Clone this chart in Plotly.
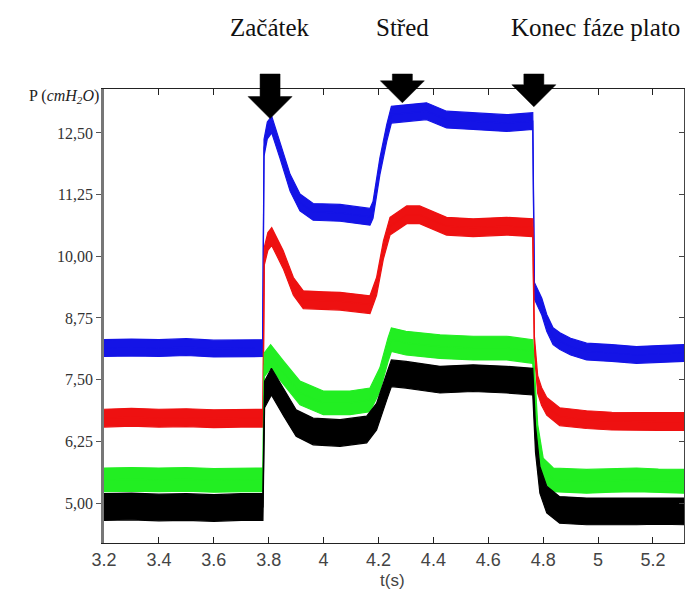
import plotly.graph_objects as go

# ---- data ----
blue_t = [3.20, 3.30, 3.40, 3.50, 3.60, 3.70, 3.778, 3.783, 3.795, 3.811, 3.841, 3.878, 3.914, 3.962,
          4.06, 4.169, 4.18, 4.205, 4.23, 4.247, 4.30, 4.375, 4.448, 4.545, 4.667, 4.762, 4.768,
          4.795, 4.813, 4.836, 4.861, 4.90, 4.958, 5.05, 5.14, 5.22, 5.313]
blue_p = [8.14, 8.15, 8.14, 8.16, 8.13, 8.14, 8.14, 12.2, 12.55, 12.67, 12.16, 11.49, 11.09, 10.90,
          10.88, 10.80, 10.94, 11.82, 12.5, 12.87, 12.90, 12.94, 12.77, 12.74, 12.70, 12.74, 9.3,
          8.98, 8.65, 8.38, 8.28, 8.17, 8.07, 8.04, 8.00, 8.02, 8.04]

red_t = [3.20, 3.30, 3.40, 3.50, 3.60, 3.70, 3.779, 3.784, 3.797, 3.811, 3.853, 3.89, 3.926, 4.0,
         4.06, 4.169, 4.193, 4.218, 4.242, 4.303, 4.35, 4.448, 4.545, 4.667, 4.762, 4.768, 4.78,
         4.794, 4.813, 4.86, 4.958, 5.05, 5.14, 5.22, 5.313]
red_p = [6.72, 6.74, 6.72, 6.73, 6.71, 6.72, 6.72, 10.0, 10.3, 10.40, 9.93, 9.39, 9.12, 9.10,
         9.09, 9.02, 9.39, 10.13, 10.61, 10.84, 10.84, 10.61, 10.58, 10.61, 10.58, 8.2, 7.4,
         7.16, 6.96, 6.75, 6.69, 6.66, 6.65, 6.65, 6.65]

green_t = [3.20, 3.30, 3.40, 3.50, 3.60, 3.70, 3.779, 3.784, 3.807, 3.855, 3.914, 3.999, 4.096, 4.169,
           4.205, 4.235, 4.247, 4.30, 4.424, 4.545, 4.667, 4.762, 4.770, 4.78, 4.80, 4.837, 4.958,
           5.05, 5.14, 5.22, 5.313]
green_p = [5.47, 5.48, 5.47, 5.48, 5.46, 5.47, 5.47, 7.8, 7.97, 7.63, 7.23, 7.03, 7.03, 7.09,
           7.50, 8.11, 8.31, 8.24, 8.17, 8.14, 8.14, 8.07, 7.4, 6.35, 5.67, 5.47, 5.44,
           5.46, 5.47, 5.45, 5.44]

black_t = [3.20, 3.30, 3.40, 3.50, 3.60, 3.70, 3.779, 3.785, 3.81, 3.855, 3.90, 3.962, 4.06, 4.157,
           4.193, 4.23, 4.247, 4.30, 4.424, 4.545, 4.667, 4.762, 4.772, 4.788, 4.813, 4.86, 4.958,
           5.05, 5.14, 5.22, 5.313]
black_p = [4.92, 4.93, 4.91, 4.92, 4.90, 4.92, 4.92, 7.2, 7.46, 7.03, 6.62, 6.45, 6.42, 6.49,
           6.75, 7.36, 7.63, 7.60, 7.50, 7.53, 7.50, 7.46, 6.3, 5.47, 5.07, 4.86, 4.83,
           4.83, 4.83, 4.84, 4.83]

noise = {"blue": 0.17, "red": 0.18, "green": 0.24, "black": 0.27}

y_tickvals = [5.0, 6.25, 7.5, 8.75, 10.0, 11.25, 12.5]
y_ticktext = ["5,00", "6,25", "7,50", "8,75", "10,00", "11,25", "12,50"]
x_tickvals = [3.2, 3.4, 3.6, 3.8, 4.0, 4.2, 4.4, 4.6, 4.8, 5.0, 5.2]
x_ticktext = ["3.2", "3.4", "3.6", "3.8", "4", "4.2", "4.4", "4.6", "4.8", "5", "5.2"]

event_labels = ["Začátek", "Střed", "Konec fáze plato"]
event_t = [3.805, 4.287, 4.766]
event_tip = [12.79, 13.11, 13.03]
label_x = [3.805, 4.287, 4.99]

X_RANGE = [3.2, 5.313]
Y_RANGE = [4.19, 13.39]

series = [
    (blue_t, blue_p, "blue", "#1414e6"),
    (red_t, red_p, "red", "#ee1111"),
    (green_t, green_p, "green", "#22ee22"),
    (black_t, black_p, "black", "#000000"),
]

fig = go.Figure()
for t, p, key, col in series:
    a = noise[key]
    upper = [v + a for v in p]
    lower = [v - a for v in p]
    fig.add_trace(go.Scatter(
        x=t + t[::-1], y=upper + lower[::-1],
        fill="toself", fillcolor=col, mode="lines",
        line=dict(color=col, width=1.2), hoverinfo="skip", showlegend=False))
    fig.add_trace(go.Scatter(x=t, y=p, mode="lines", line=dict(color=col, width=1.2),
                             showlegend=False))

# invisible trace for the right-hand (mirrored) axis
fig.add_trace(go.Scatter(x=[X_RANGE[0]], y=[Y_RANGE[0]], yaxis="y2", mode="markers",
                         marker=dict(opacity=0), showlegend=False, hoverinfo="skip"))

W, H = 687, 591
ML, MR, MT, MB = 104, 3, 89, 48
PW, PH = W - ML - MR, H - MT - MB


def px_x(t):
    return (t - X_RANGE[0]) / (X_RANGE[1] - X_RANGE[0])


def px_y_from_val(v):
    return (v - Y_RANGE[0]) / (Y_RANGE[1] - Y_RANGE[0])


def py_paper(py):
    return (H - MB - py) / PH


shapes = []
for t, tipv in zip(event_t, event_tip):
    cx = px_x(t)
    tip = px_y_from_val(tipv)
    base = tip + 22 / PH
    top = py_paper(74)
    sw = 10 / PW
    hw = 22 / PW
    path = (f"M {cx - sw} {top} L {cx + sw} {top} L {cx + sw} {base} L {cx + hw} {base} "
            f"L {cx} {tip} L {cx - hw} {base} L {cx - sw} {base} Z")
    shapes.append(dict(type="path", path=path, xref="paper", yref="paper",
                       fillcolor="black", line=dict(color="black", width=0.5)))

annotations = []
for lab, t in zip(event_labels, label_x):
    annotations.append(dict(text=lab, x=px_x(t), y=py_paper(27), xref="paper", yref="paper",
                            xanchor="center", yanchor="middle", showarrow=False,
                            font=dict(family="Liberation Serif", size=25, color="#111")))
annotations.append(dict(text="P (<i>cmH<sub>2</sub>O</i>)", x=(101 - ML) / PW, y=py_paper(96),
                        xref="paper", yref="paper", xanchor="right", yanchor="middle",
                        showarrow=False,
                        font=dict(family="Liberation Serif", size=16, color="#222")))
annotations.append(dict(text="t(s)", x=(392 - ML) / PW, y=py_paper(580), xref="paper",
                        yref="paper", xanchor="center", yanchor="middle", showarrow=False,
                        font=dict(family="Liberation Sans", size=17, color="#444")))

fig.update_layout(
    width=W, height=H,
    margin=dict(l=ML, r=MR, t=MT, b=MB),
    paper_bgcolor="white", plot_bgcolor="white",
    shapes=shapes, annotations=annotations,
    xaxis=dict(range=X_RANGE, tickvals=x_tickvals, ticktext=x_ticktext,
               ticks="inside", ticklen=6, tickcolor="#222", mirror="ticks",
               showline=True, linecolor="#222", linewidth=1.3, showgrid=False, zeroline=False,
               tickfont=dict(family="Liberation Sans", size=18, color="#444")),
    yaxis=dict(range=Y_RANGE, tickvals=y_tickvals, ticktext=y_ticktext,
               ticks="outside", ticklen=5, tickcolor="#555",
               showline=True, linecolor="#777", linewidth=2.5, showgrid=False, zeroline=False,
               tickfont=dict(family="Liberation Serif", size=16, color="#333")),
    yaxis2=dict(range=Y_RANGE, tickvals=y_tickvals, overlaying="y", side="right",
                ticks="inside", ticklen=5, tickcolor="#444", showticklabels=False,
                showline=True, linecolor="#444", linewidth=1.2, showgrid=False, zeroline=False),
)

fig.write_html("out.html")
